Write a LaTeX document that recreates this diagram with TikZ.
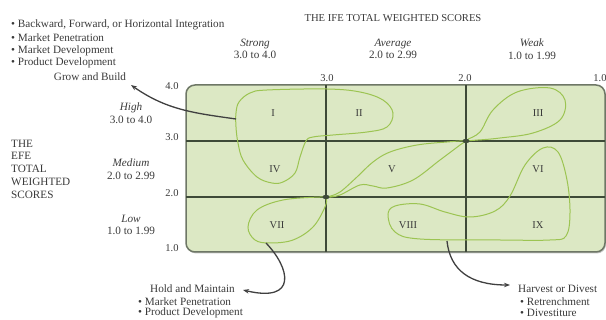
\documentclass[tikz,border=0pt]{standalone}
\usepackage{fontspec}
\setmainfont{Liberation Serif}
\usetikzlibrary{arrows.meta,shadows}
\definecolor{txt}{HTML}{3A3A3A}
\definecolor{cellfill}{HTML}{DCE8C4}
\definecolor{framec}{HTML}{6E7766}
\definecolor{gridc}{HTML}{3E4A38}
\definecolor{loopc}{HTML}{9CC452}
\definecolor{arr}{HTML}{404040}
\tikzset{
  lbl/.style={text=txt, font=\fontsize{11.2}{12.7}\selectfont, inner sep=0pt},
  tick/.style={text=txt, font=\fontsize{10.5}{12}\selectfont, inner sep=0pt},
  cell/.style={text=txt, font=\fontsize{10.5}{12}\selectfont, inner sep=0pt},
  gridline/.style={draw=gridc, line width=1.6pt},
  lobe/.style={draw=loopc, line width=1pt},
  pointer/.style={draw=arr, line width=1.3pt, -{Stealth[length=6pt,width=4.5pt]}},
}
\begin{document}
\begin{tikzpicture}[x=1pt,y=-1pt]
\useasboundingbox (0,0) rectangle (606,320);
% matrix frame
\node[draw=framec, line width=1.5pt, fill=cellfill, rounded corners=9pt,
      minimum width=419pt, minimum height=167pt, inner sep=0pt,
      drop shadow={shadow xshift=1pt, shadow yshift=-1.5pt, opacity=0.45}]
      (frame) at (395.5,168.5) {};
% grid
\coordinate (v1t) at (326,85);  \coordinate (v1b) at (326,252);
\coordinate (v2t) at (466,85);  \coordinate (v2b) at (466,252);
\coordinate (h1l) at (186,141); \coordinate (h1r) at (605,141);
\coordinate (h2l) at (186,197); \coordinate (h2r) at (605,197);
\draw[gridline] (v1t) -- (v1b);
\draw[gridline] (v2t) -- (v2b);
\draw[gridline] (h1l) -- (h1r);
\draw[gridline] (h2l) -- (h2r);
% lobes
\draw[lobe] plot[smooth cycle, tension=0.6] coordinates {
 (306,141) (300,157) (295,173) (283,182) (272,183) (257,177) (243,160) (238,143)
 (236,127) (236,113) (239,102) (250,93) (267,90) (327,89) (360,92) (383,100)
 (393,113) (387,127) (367,132) (333,135) (313,137)};
\draw[lobe] plot[smooth cycle, tension=0.6] coordinates {
 (328,197) (340,192) (357,177) (373,162) (390,152) (417,145) (447,142) (465,141)
 (460,145) (440,160) (413,180) (387,188) (373,186) (360,185) (340,195)};
\draw[lobe] plot[smooth cycle, tension=0.6] coordinates {
 (467,140) (480,132) (493,110) (517,92) (550,88) (565,100) (560,120) (533,133)
 (500,138) (478,140)};
\draw[lobe] plot[smooth cycle, tension=0.6] coordinates {
 (326,198) (320,197) (283,200) (257,210) (248,227) (255,240) (270,243) (293,240)
 (313,227) (325,207)};
\draw[lobe] plot[smooth cycle, tension=0.6] coordinates {
 (388,215) (395,206) (420,204) (445,212) (470,217) (495,211) (510,196) (525,165)
 (543,148) (558,152) (567,180) (570,213) (566,236) (550,240) (500,240) (420,239)
 (395,232)};
\fill[gridc] (326,197) ellipse (3.5pt and 2.2pt);
\fill[gridc] (466,141) ellipse (3.5pt and 2.2pt);
% cell labels
\node[cell] (c1) at (273,113) {I};
\node[cell] (c2) at (359,113) {II};
\node[cell] (c3) at (538,113) {III};
\node[cell] (c4) at (275,169) {IV};
\node[cell] (c5) at (392,169) {V};
\node[cell] (c6) at (538,169) {VI};
\node[cell] (c7) at (277,225) {VII};
\node[cell] (c8) at (408,225) {VIII};
\node[cell] (c9) at (538,225) {IX};
% ticks
\node[tick] (tl4) at (172,86) {4.0};
\node[tick] (tl3) at (172,137) {3.0};
\node[tick] (tl2) at (172,193) {2.0};
\node[tick] (tl1) at (172,248) {1.0};
\node[tick] (tt3) at (327,78) {3.0};
\node[tick] (tt2) at (465,78) {2.0};
\node[tick] (tt1) at (600,78) {1.0};
% titles and headers
\node[lbl] (title) at (393,18) {\fontsize{10.6}{12}\selectfont THE IFE TOTAL WEIGHTED SCORES};
\node[lbl, align=center] (strong) at (255,49) {\textit{Strong}\\3.0 to 4.0};
\node[lbl, align=center] (average) at (393,49) {\textit{Average}\\2.0 to 2.99};
\node[lbl, align=center] (weak) at (532,49) {\textit{Weak}\\1.0 to 1.99};
\node[lbl, align=center] (high) at (131,113) {\textit{High}\\3.0 to 4.0};
\node[lbl, align=center] (medium) at (131,169) {\textit{Medium}\\2.0 to 2.99};
\node[lbl, align=center] (low) at (131,225) {\textit{Low}\\1.0 to 1.99};
\node[lbl, align=left, anchor=west] (efe) at (11,169) {THE\\EFE\\TOTAL\\WEIGHTED\\SCORES};
% top-left strategies
\node[lbl, anchor=west] (g1) at (11,25) {• Backward, Forward, or Horizontal Integration};
\node[lbl, anchor=west] (g2) at (11,38) {• Market Penetration};
\node[lbl, anchor=west] (g3) at (11,51) {• Market Development};
\node[lbl, anchor=west] (g4) at (11,63) {• Product Development};
\node[lbl] (grow) at (90,77) {Grow and Build};
% bottom-left
\node[lbl, anchor=east] (hold) at (235,289) {Hold and Maintain};
\node[lbl, anchor=west] (h1) at (138,302) {• Market Penetration};
\node[lbl, anchor=west] (h2) at (138,313) {• Product Development};
% bottom-right
\node[lbl, anchor=west] (harv) at (518,289) {Harvest or Divest};
\node[lbl, anchor=west] (r1) at (520,302) {• Retrenchment};
\node[lbl, anchor=west] (r2) at (520,313) {• Divestiture};
% pointers
\coordinate (gs) at (236,119); \coordinate (gt) at (131,85);
\coordinate (hs) at (266,243); \coordinate (ht) at (243,290);
\coordinate (vs) at (447,241); \coordinate (vt) at (510,285);
\draw[pointer] (gs) to[out=172,in=-35] (gt);
\draw[pointer] (hs) .. controls (290,268) and (298,303) .. (ht);
\draw[pointer] (vs) .. controls (450,270) and (470,285) .. (vt);
\end{tikzpicture}
\end{document}
